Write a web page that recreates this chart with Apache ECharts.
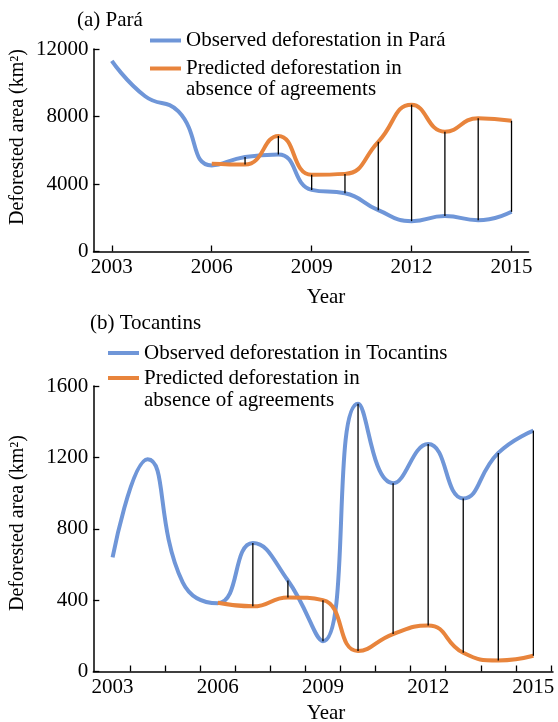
<!DOCTYPE html>
<html>
<head>
<meta charset="utf-8">
<script src="https://cdn.jsdelivr.net/npm/echarts@6/dist/echarts.min.js"></script>
<style>
  html, body { margin: 0; padding: 0; background: #fff; }
  #main { width: 558px; height: 722px; }
</style>
</head>
<body>
<div id="main"></div>
<script>
// years and values
const years = [2003, 2004, 2005, 2006, 2007, 2008, 2009, 2010, 2011, 2012, 2013, 2014, 2015];
const paraObserved = [11300, 9200, 8300, 5100, 5600, 5750, 3650, 3450, 2450, 1800, 2100, 1850, 2350];
const paraPredicted = [null, null, null, 5200, 5150, 6850, 4550, 4600, 6500, 8700, 7100, 7900, 7750];
const tocObserved = [640, 1190, 500, 383, 720, 510, 170, 1500, 1055, 1275, 970, 1225, 1350];
const tocPredicted = [null, null, null, 385, 365, 415, 400, 115, 210, 258, 105, 62, 88];
// years that get a black connector between the two curves
const linkYears = [2007, 2008, 2009, 2010, 2011, 2012, 2013, 2014, 2015];
const labelYears = [2003, 2006, 2009, 2012, 2015];
const tickYearsA = [2003, 2006, 2009, 2012, 2015];
const tickYearsB = [2003.5, 2004.5, 2005.5, 2006.5, 2007.5, 2008.5, 2009.5, 2010.5, 2011.5, 2012.5, 2013.5, 2014.5, 2015.5];

const blue = '#6f96d8';
const orange = '#e8843c';
const font = 'Liberation Serif';

// leading blank line keeps the icon level with the first text line
const legendText = {
    obsA: 'Observed deforestation in Pará',
    predA: '\nPredicted deforestation in\nabsence of agreements',
    obsB: 'Observed deforestation in Tocantins',
    predB: '\nPredicted deforestation in\nabsence of agreements'
};

function pairs(vals) {
    return years.map((y, i) => vals[i] == null ? null : [y, vals[i]]).filter(Boolean);
}
function links(obs, pred) {
    return linkYears.map(y => {
        const i = years.indexOf(y);
        return [y, obs[i], pred[i]];
    });
}

const axisLine = { show: true, lineStyle: { color: '#000', width: 1.5 } };
const axisTick = { show: true, inside: true, length: 6, lineStyle: { color: '#000', width: 1.3 } };
const labelStyle = { color: '#000', fontFamily: font, fontSize: 21, formatter: v => String(v) };

function xAxis(idx, ticks, max) {
    return {
        type: 'value', gridIndex: idx, min: 2002.45, max: max,
        axisLine: axisLine,
        axisTick: Object.assign({ customValues: ticks }, axisTick),
        axisLabel: Object.assign({ customValues: labelYears, margin: 5 }, labelStyle),
        splitLine: { show: false }
    };
}
function yAxis(idx, max, step) {
    return {
        type: 'value', gridIndex: idx, min: 0, max: max, interval: step,
        axisLine: axisLine,
        axisTick: axisTick,
        axisLabel: Object.assign({ margin: 5 }, labelStyle),
        splitLine: { show: false }
    };
}
function curve(name, idx, vals, color) {
    return {
        name: name, type: 'line', xAxisIndex: idx, yAxisIndex: idx,
        data: pairs(vals), smooth: 0.5, showSymbol: false, z: 2,
        itemStyle: { color: color },
        lineStyle: { color: color, width: 4 }
    };
}
function connectors(idx, obs, pred) {
    return {
        type: 'custom', xAxisIndex: idx, yAxisIndex: idx, z: 3,
        data: links(obs, pred),
        encode: { x: 0, y: [1, 2] },
        renderItem: function (params, api) {
            const p1 = api.coord([api.value(0), api.value(1)]);
            const p2 = api.coord([api.value(0), api.value(2)]);
            return {
                type: 'line',
                shape: { x1: p1[0], y1: p1[1], x2: p2[0], y2: p2[1] },
                style: { stroke: '#000', lineWidth: 1.3 }
            };
        }
    };
}
function legend(name, left, top, lh) {
    return {
        data: [name], left: left, top: top, orient: 'vertical', padding: 0,
        icon: 'rect', itemWidth: 31, itemHeight: 4, selectedMode: false,
        formatter: n => legendText[n],
        textStyle: { color: '#000', fontFamily: font, fontSize: 21, lineHeight: lh }
    };
}
function axisName(text, x, y, size, rotated) {
    return {
        type: 'text', x: x, y: y, rotation: rotated ? Math.PI / 2 : 0,
        style: {
            text: text, fill: '#000', font: size + 'px "' + font + '"',
            align: 'center', verticalAlign: 'middle'
        }
    };
}

const chart = echarts.init(document.getElementById('main'));
chart.setOption({
    animation: false,
    title: [
        { text: '(a) Pará', left: 77, top: 10, padding: 0,
          textStyle: { color: '#000', fontFamily: font, fontSize: 21, fontWeight: 'normal' } },
        { text: '(b) Tocantins', left: 90, top: 313, padding: 0,
          textStyle: { color: '#000', fontFamily: font, fontSize: 21, fontWeight: 'normal' } }
    ],
    legend: [
        legend('obsA', 150, 30, 21),
        legend('predA', 150, 37, 21),
        legend('obsB', 108, 342, 22),
        legend('predB', 108, 345, 22)
    ],
    grid: [
        { left: 93.5, top: 49, width: 435, height: 202.5 },
        { left: 93.3, top: 386, width: 459.7, height: 285.5 }
    ],
    xAxis: [xAxis(0, tickYearsA, 2015.51), xAxis(1, tickYearsB, 2015.56)],
    yAxis: [yAxis(0, 12000, 4000), yAxis(1, 1600, 400)],
    graphic: [
        axisName('Deforested area (km²)', 18, 137, 20, true),
        axisName('Deforested area (km²)', 18, 523, 20, true),
        axisName('Year', 326, 297, 21, false),
        axisName('Year', 326, 713, 21, false)
    ],
    series: [
        curve('obsA', 0, paraObserved, blue),
        curve('predA', 0, paraPredicted, orange),
        connectors(0, paraObserved, paraPredicted),
        curve('obsB', 1, tocObserved, blue),
        curve('predB', 1, tocPredicted, orange),
        connectors(1, tocObserved, tocPredicted)
    ]
});
</script>
</body>
</html>
